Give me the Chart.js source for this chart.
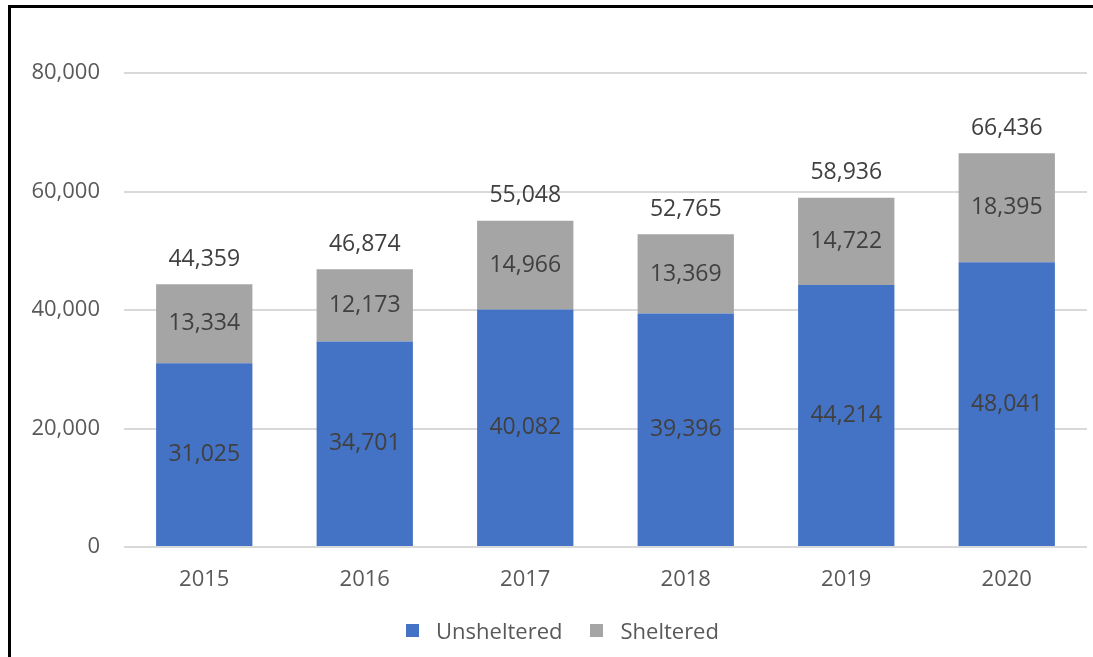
<!DOCTYPE html>
<html lang="en">
<head>
    <meta charset="UTF-8">
    <title>Unsheltered and Sheltered</title>
    <script src="https://cdn.jsdelivr.net/npm/chart.js"></script>
    <style>
        * {
            padding: 0;
            margin: 0;
        }

        body {
            background-color: #FFFFFF;
            width: 1093px;
            height: 657px;
            overflow: hidden;
            position: relative;
            font-family: 'Open Sans', 'Noto Sans', sans-serif;
        }

        .moldura {
            position: absolute;
            left: 8px;
            top: 5px;
            width: 1200px;
            height: 800px;
            border-left: 3px solid #000;
            border-top: 3px solid #000;
        }

        #barChart {
            position: absolute;
            left: 0;
            top: 0;
        }

        /* legenda em HTML, abaixo do eixo */
        .legenda {
            position: absolute;
            left: 0;
            width: 1093px;
            top: 614px;
            display: flex;
            justify-content: center;
            padding-left: 32px;
            box-sizing: border-box;
            font-size: 22px;
            color: #595959;
            line-height: 32px;
        }

        .legenda span {
            display: flex;
            align-items: center;
            margin: 0 14px;
        }

        .legenda i {
            display: inline-block;
            width: 13px;
            height: 13px;
            margin-right: 17px;
        }
    </style>
</head>
<body>
    <div class="moldura"></div>
    <canvas id="barChart" width="1093" height="657"></canvas>
    <div class="legenda" id="legenda"></div>
    <script>
        const anos = ['2015', '2016', '2017', '2018', '2019', '2020'];
        const unsheltered = [31025, 34701, 40082, 39396, 44214, 48041];
        const sheltered = [13334, 12173, 14966, 13369, 14722, 18395];
        const yTicks = [0, 20000, 40000, 60000, 80000];

        const fonte = "'Open Sans', 'Noto Sans', sans-serif";
        const fmt = (v) => v.toLocaleString('en-US');

        // rótulos dentro das barras e total acima da pilha
        const rotulos = {
            id: 'rotulos',
            afterDatasetsDraw(chart) {
                const ctx = chart.ctx;
                ctx.save();
                ctx.font = '23px ' + fonte;
                ctx.fillStyle = '#404040';
                ctx.textAlign = 'center';
                ctx.textBaseline = 'middle';
                chart.data.datasets.forEach((ds, i) => {
                    chart.getDatasetMeta(i).data.forEach((bar, j) => {
                        const meio = (bar.y + bar.base) / 2;
                        ctx.fillText(fmt(ds.data[j]), bar.x, meio);
                    });
                });
                const topo = chart.getDatasetMeta(chart.data.datasets.length - 1).data;
                topo.forEach((bar, j) => {
                    const total = unsheltered[j] + sheltered[j];
                    ctx.fillText(fmt(total), bar.x, bar.y - 25);
                });
                ctx.restore();
            }
        };

        let ctx = document.getElementById('barChart').getContext('2d');
        let barChart = new Chart(ctx, {
            type: 'bar',
            data: {
                labels: anos,
                datasets: [{
                    label: 'Unsheltered',
                    data: unsheltered,
                    backgroundColor: '#4472C4'
                }, {
                    label: 'Sheltered',
                    data: sheltered,
                    backgroundColor: '#A5A5A5'
                }]
            },
            options: {
                responsive: false,
                animation: false,
                layout: {
                    padding: { top: 73, right: 6, bottom: 46, left: 0 }
                },
                datasets: {
                    bar: {
                        categoryPercentage: 1,
                        barPercentage: 0.6
                    }
                },
                plugins: {
                    tooltip: { enabled: false },
                    legend: { display: false }
                },
                scales: {
                    x: {
                        stacked: true,
                        grid: { display: false },
                        border: { display: false },
                        ticks: {
                            font: { family: fonte, size: 22 },
                            color: '#595959',
                            padding: 12
                        },
                        afterFit: (scale) => { scale.height = 64; }
                    },
                    y: {
                        stacked: true,
                        min: 0,
                        max: 80000,
                        afterBuildTicks: (scale) => {
                            scale.ticks = yTicks.map(v => ({ value: v }));
                        },
                        grid: {
                            color: '#D9D9D9',
                            lineWidth: 2,
                            drawTicks: false
                        },
                        border: { display: false },
                        ticks: {
                            font: { family: fonte, size: 22 },
                            color: '#595959',
                            padding: 24,
                            callback: (v) => fmt(v)
                        },
                        afterFit: (scale) => { scale.width = 124; }
                    }
                }
            },
            plugins: [rotulos]
        });

        // monta a legenda a partir dos datasets
        let legenda = document.getElementById('legenda');
        barChart.data.datasets.forEach(ds => {
            legenda.innerHTML += `<span><i style="background:${ds.backgroundColor}"></i>${ds.label}</span>`;
        });
    </script>
</body>
</html>
